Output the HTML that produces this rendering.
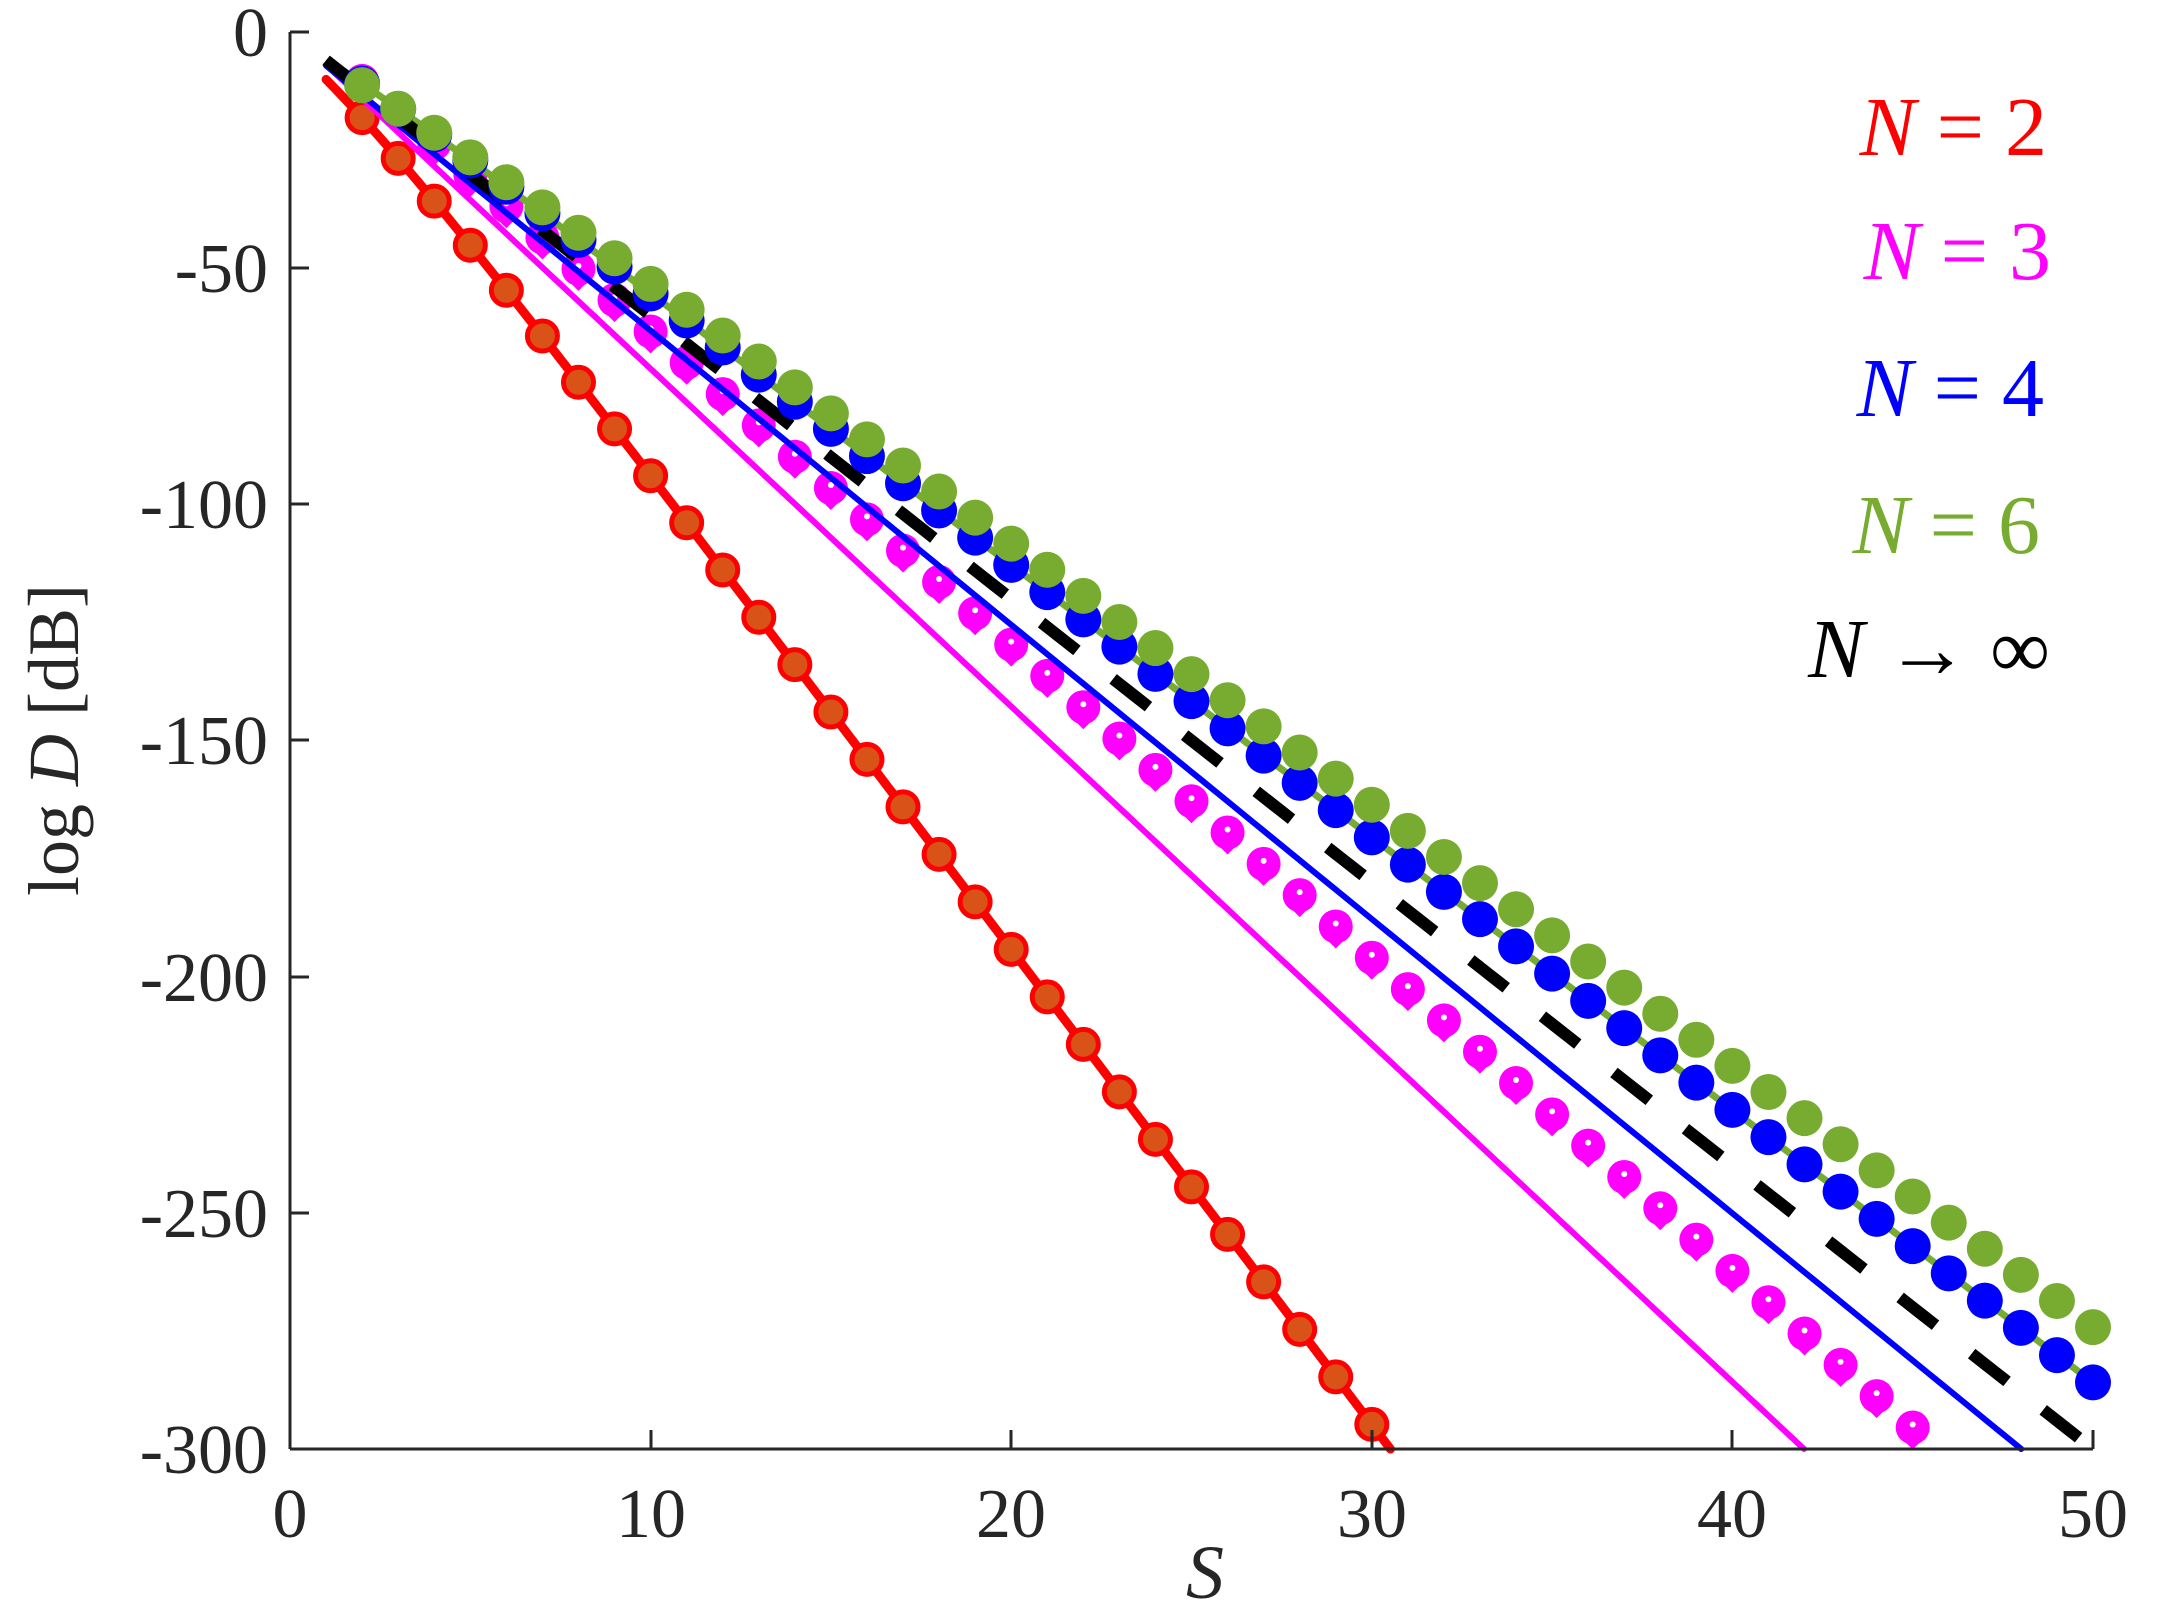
<!DOCTYPE html>
<html><head><meta charset="utf-8"><style>
html,body{margin:0;padding:0;background:#fff;}
svg{display:block;}
</style></head><body>
<svg id="s" width="2159" height="1620" viewBox="0 0 2159 1620" xmlns="http://www.w3.org/2000/svg">
<rect width="2159" height="1620" fill="#fff"/>
<g id="plot"></g>
<g stroke="#262626" stroke-width="3" fill="none">
<line x1="290" y1="32" x2="290" y2="1449"/>
<line x1="290" y1="1449" x2="2093" y2="1449"/>
<line x1="290" y1="32" x2="309" y2="32"/>
<line x1="290" y1="268" x2="309" y2="268"/>
<line x1="290" y1="504" x2="309" y2="504"/>
<line x1="290" y1="740" x2="309" y2="740"/>
<line x1="290" y1="977" x2="309" y2="977"/>
<line x1="290" y1="1213" x2="309" y2="1213"/>
<line x1="651" y1="1449" x2="651" y2="1430"/>
<line x1="1011" y1="1449" x2="1011" y2="1430"/>
<line x1="1372" y1="1449" x2="1372" y2="1430"/>
<line x1="1732" y1="1449" x2="1732" y2="1430"/>
<line x1="2093" y1="1449" x2="2093" y2="1430"/>
</g>
<g font-family="Liberation Serif, serif" font-size="70" fill="#262626" text-anchor="end">
<text x="268" y="56">0</text>
<text x="268" y="292">-50</text>
<text x="268" y="528">-100</text>
<text x="268" y="764">-150</text>
<text x="268" y="1001">-200</text>
<text x="268" y="1237">-250</text>
<text x="268" y="1473">-300</text>
</g>
<g font-family="Liberation Serif, serif" font-size="70" fill="#262626" text-anchor="middle">
<text x="290" y="1537">0</text>
<text x="651" y="1537">10</text>
<text x="1011" y="1537">20</text>
<text x="1372" y="1537">30</text>
<text x="1732" y="1537">40</text>
<text x="2093" y="1537">50</text>
<text x="1205" y="1598" font-style="italic" font-size="76">S</text>
<text transform="translate(78,740) rotate(-90)" font-size="72">log <tspan font-style="italic">D</tspan> [dB]</text>
</g>
<g font-family="Liberation Serif, serif" font-size="84" text-anchor="end">
<text x="2047" y="155" fill="#ff0000"><tspan font-style="italic">N</tspan> = 2</text>
<text x="2051" y="279" fill="#ff00ff"><tspan font-style="italic">N</tspan> = 3</text>
<text x="2044" y="416" fill="#0000ff"><tspan font-style="italic">N</tspan> = 4</text>
<text x="2040" y="553" fill="#77ac30"><tspan font-style="italic">N</tspan> = 6</text>
<text x="2050" y="677" fill="#000"><tspan font-style="italic">N</tspan> → ∞</text>
</g>
</svg>
<script>
(function(){
var NS="http://www.w3.org/2000/svg",g=document.getElementById("plot");
function X(s){return 290+36.06*s;}
function Y(v){return 32-v*4.7233;}
function el(t,a){var e=document.createElementNS(NS,t);for(var k in a)e.setAttribute(k,a[k]);g.appendChild(e);return e;}
function poly(f,s0,s1,col,w,dash){
 var pts=[];
 for(var s=s0;s<=s1+1e-9;s+=0.25){var v=f(s);if(v<-300){
   var sp=s-0.25,vp=f(sp);var sc=sp+0.25*(-300-vp)/(v-vp);pts.push(X(sc)+","+Y(-300));break;}
   pts.push(X(s)+","+Y(v));}
 var o={points:pts.join(" "),fill:"none",stroke:col,"stroke-width":w,"stroke-linejoin":"round","stroke-linecap":dash?"butt":"round"};
 if(dash)o["stroke-dasharray"]=dash;
 el("polyline",o);
}
var red=function(s){return -10.06*s+7-5*Math.exp(-(s-2)/3);};
var magL=function(s){return -7.15*s+0.2;};
var magD=function(s){return -6.63*s+2.9;};
var bluL=function(s){return -6.23*s-0.9;};
var bluD=function(s){return -5.77*s+2.6-2*Math.exp(-(s-2)/4);};
var grn=function(s){return -5.53*s+2.3-2.5*Math.exp(-(s-2)/4);};
var blk=function(s){return -6.0*s;};
poly(red,1,40,"#ff0000",9);
for(var s=2;s<=30;s++){el("circle",{cx:X(s),cy:Y(red(s)),r:15,fill:"#d95319",stroke:"#ff0000","stroke-width":5});}
poly(magL,1,60,"#ff00ff",6);
for(var s=2;s<=45;s++){var cx=X(s),cy=Y(magD(s));
 el("circle",{cx:cx,cy:cy,r:17,fill:"#ff00ff"});
 el("path",{d:"M"+(cx-12)+","+(cy+10)+" L"+cx+","+(cy+22)+" L"+(cx+12)+","+(cy+10)+"Z",fill:"#ff00ff"});
 el("circle",{cx:cx,cy:cy-3,r:3,fill:"#fff"});}
poly(bluL,1,60,"#0000ff",6);
poly(bluD,1.5,50,"#77ac30",7);
poly(blk,1,50,"#000",12,"45 46");
for(var s=2;s<=50;s++){el("circle",{cx:X(s),cy:Y(bluD(s)),r:18,fill:"#0000ff"});}
for(var s=2;s<=50;s++){el("circle",{cx:X(s),cy:Y(grn(s)),r:18,fill:"#77ac30"});}
})();
</script>
</body></html>
